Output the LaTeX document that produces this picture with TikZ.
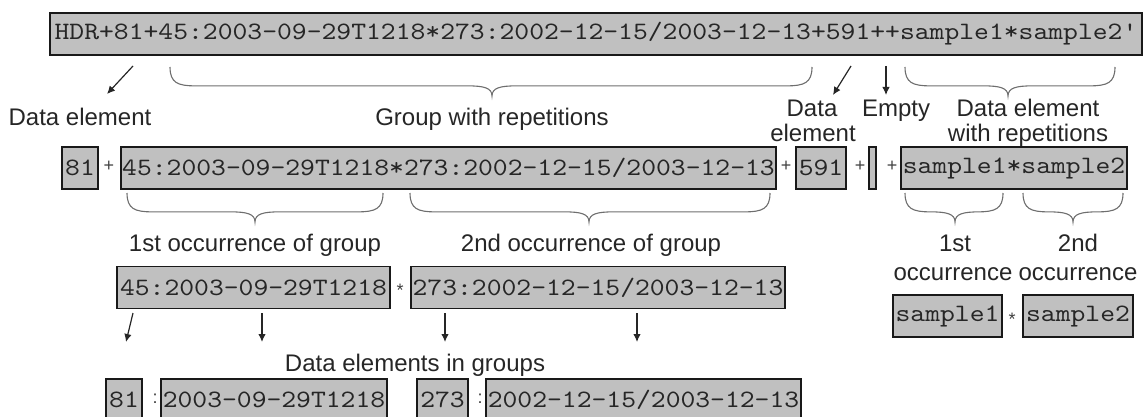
\documentclass[tikz,border=0pt]{standalone}
\usepackage{fontspec}
\setmainfont{Liberation Sans}
\newfontfamily\cour{lmmono10-regular.otf}[FakeStretch=1.13,Ligatures=TeXOff]
\usetikzlibrary{arrows.meta}
\definecolor{boxgray}{RGB}{192,192,192}
\definecolor{bracegray}{RGB}{110,110,110}
\tikzset{
 fld/.style={draw=black!90, line width=1.8pt, fill=boxgray, inner sep=0pt,
   minimum height=42pt, font=\cour\fontsize{25}{25}\selectfont, text=black!85},
 lbl/.style={font=\fontsize{24}{26}\selectfont, text=black!85, inner sep=0pt, anchor=base},
 sepc/.style={font=\fontsize{18}{18}\selectfont, text=black!75, inner sep=0pt},
 arr/.style={-{Latex[length=8pt,width=7.5pt]}, line width=1.2pt, draw=black!85},
 brc/.style={draw=bracegray, line width=1.1pt},
}
\newcommand{\mybrace}[5]{%
 \draw[brc] (#1,#4) .. controls (#1,{#4+0.55*(#5-#4)}) and ({#1+8},{#4+0.65*(#5-#4)}) .. ({#1+25},{#4+0.65*(#5-#4)})
   -- ({#3-25},{#4+0.65*(#5-#4)}) .. controls ({#3-8},{#4+0.65*(#5-#4)}) and (#3,{#4+0.72*(#5-#4)}) .. (#3,#5)
   .. controls (#3,{#4+0.72*(#5-#4)}) and ({#3+8},{#4+0.65*(#5-#4)}) .. ({#3+25},{#4+0.65*(#5-#4)})
   -- ({#2-25},{#4+0.65*(#5-#4)}) .. controls ({#2-8},{#4+0.65*(#5-#4)}) and (#2,{#4+0.55*(#5-#4)}) .. (#2,#4);}
\begin{document}
\begin{tikzpicture}[x=1pt,y=-1pt]
\useasboundingbox (0,0) rectangle (1148,417);
\clip (0,0) rectangle (1148,417);
% top
\node[fld, minimum width=1092pt] (top) at (596,34) {HDR+81+45:2003-09-29T1218*273:2002-12-15/2003-12-13+591++sample1*sample2'};
% row 2
\node[fld, minimum width=36pt] (r81) at (80,168) {81};
\node[sepc] (p1) at (109,166) {+};
\node[fld, minimum width=655pt] (grp) at (448.5,168) {45:2003-09-29T1218*273:2002-12-15/2003-12-13};
\node[sepc] (p2) at (786,166) {+};
\node[fld, minimum width=50pt] (r591) at (821,168) {591};
\node[sepc] (p3) at (860,166) {+};
\node[fld, minimum width=7pt] (remp) at (872.5,168) {};
\node[sepc] (p4) at (892,166) {+};
\node[fld, minimum width=226pt] (rsam) at (1014,168) {sample1*sample2};
% row 3
\node[fld, minimum width=273pt] (g1) at (253.5,287.5) {45:2003-09-29T1218};
\node[sepc] (s1) at (400,290) {*};
\node[fld, minimum width=374pt] (g2) at (598,287.5) {273:2002-12-15/2003-12-13};
\node[fld, minimum width=109pt] (rs1) at (947.5,316) {sample1};
\node[sepc] (s2) at (1012,319) {*};
\node[fld, minimum width=110pt] (rs2) at (1078,316) {sample2};
% bottom row
\node[fld, minimum width=36pt] (b81) at (124,400) {81};
\node[sepc] (c1) at (155,399) {:};
\node[fld, minimum width=226pt] (bd1) at (274,400) {2003-09-29T1218};
\node[fld, minimum width=51pt] (b273) at (442.5,400) {273};
\node[sepc] (c2) at (480,399) {:};
\node[fld, minimum width=315pt] (bd2) at (643.5,400) {2002-12-15/2003-12-13};
% labels
\node[lbl] (l1) at (80,125.5) {Data element};
\node[lbl] (l2) at (492,125.5) {Group with repetitions};
\node[lbl] (l3) at (812,116.5) {Data};
\node[lbl] (l3b) at (813,141.5) {element};
\node[lbl] (l4) at (896,116.5) {Empty};
\node[lbl] (l5) at (1028,116.5) {Data element};
\node[lbl] (l5b) at (1028,141.5) {with repetitions};
\node[lbl] (l6) at (255,251.5) {1st occurrence of group};
\node[lbl] (l7) at (591,251.5) {2nd occurrence of group};
\node[lbl] (l8) at (955,251.5) {1st};
\node[lbl] (l9) at (1078,251.5) {2nd};
\node[lbl] (l10) at (953,280.5) {occurrence};
\node[lbl] (l11) at (1078,280.5) {occurrence};
\node[lbl] (l12) at (415,371.5) {Data elements in groups};
% arrows
\coordinate (a1s) at (133,66); \coordinate (a1e) at (107,94);
\coordinate (a2s) at (851,66); \coordinate (a2e) at (833,95);
\coordinate (a3s) at (886,66); \coordinate (a3e) at (886,95);
\coordinate (b1s) at (133,313); \coordinate (b1e) at (126,342);
\coordinate (b2s) at (262,313); \coordinate (b2e) at (262,342);
\coordinate (b3s) at (445,313); \coordinate (b3e) at (445,342);
\coordinate (b4s) at (637,313); \coordinate (b4e) at (637,342);
\foreach \s/\e in {a1s/a1e,a2s/a2e,a3s/a3e,b1s/b1e,b2s/b2e,b3s/b3e,b4s/b4e}
  \draw[arr] (\s) -- (\e);
% braces
\mybrace{170}{812}{492}{67}{96}
\mybrace{905}{1115}{1008}{67}{96}
\mybrace{127}{383}{255}{193}{222}
\mybrace{410}{770}{589}{193}{222}
\mybrace{905}{1003}{955}{193}{222}
\mybrace{1023}{1123}{1073}{193}{222}
\end{tikzpicture}
\end{document}
